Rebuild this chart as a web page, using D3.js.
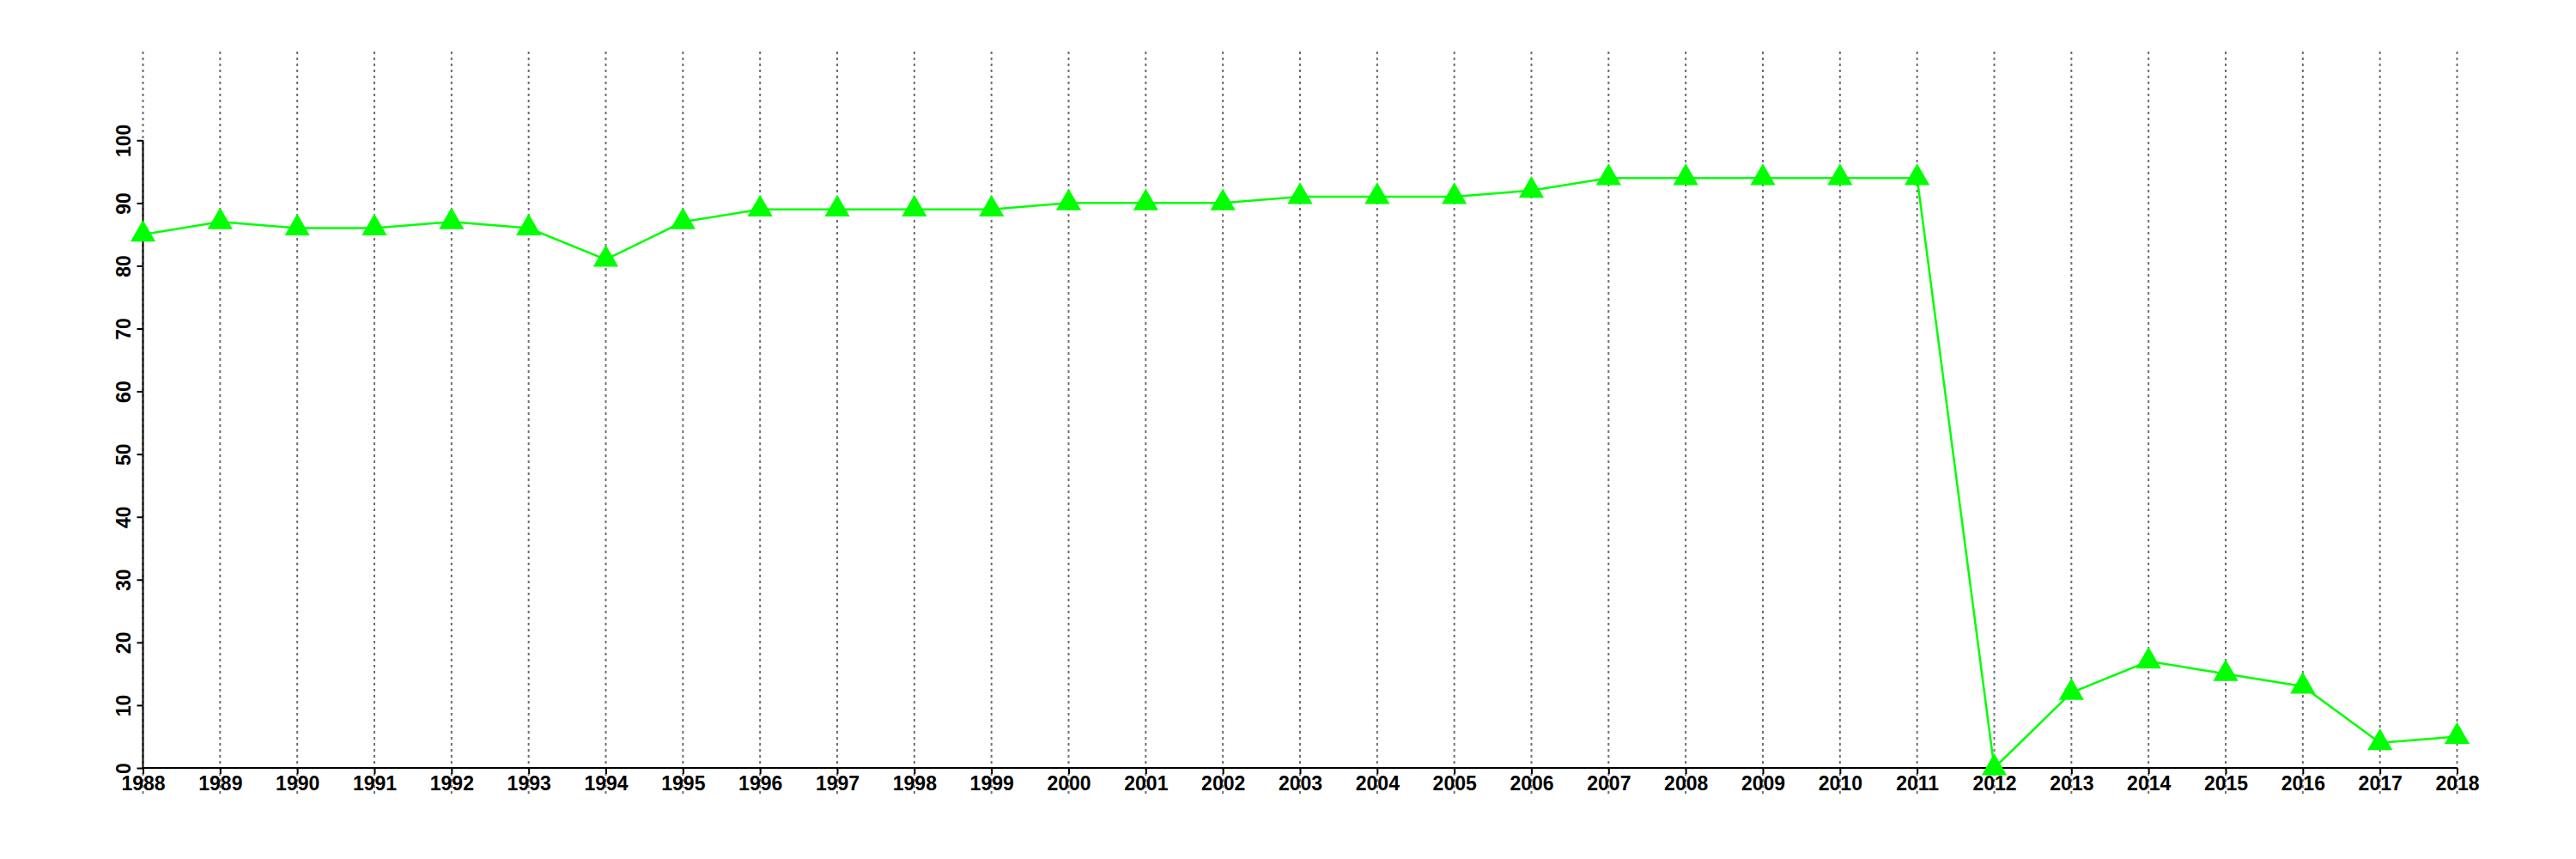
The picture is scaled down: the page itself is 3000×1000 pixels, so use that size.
<!DOCTYPE html>
<html>
<head>
<meta charset="utf-8">
<script src="https://cdn.jsdelivr.net/npm/d3@7"></script>
<style>
  html, body { margin: 0; padding: 0; background: #fff; }
  svg { display: block; }
  text { font-family: "Liberation Sans", Arial, sans-serif; font-weight: bold; font-size: 23px; fill: #000; }
</style>
</head>
<body>
<svg id="chart" width="3000" height="1000"></svg>
<script>
const years = [1988,1989,1990,1991,1992,1993,1994,1995,1996,1997,1998,1999,2000,2001,2002,2003,2004,2005,2006,2007,2008,2009,2010,2011,2012,2013,2014,2015,2016,2017,2018];
const values = [85,87,86,86,87,86,81,87,89,89,89,89,90,90,90,91,91,91,92,94,94,94,94,94,0,12,17,15,13,4,5];
const yTicks = [0,10,20,30,40,50,60,70,80,90,100];

const svg = d3.select("#chart");
const x = d3.scaleLinear().domain([1988, 2018]).range([166.5, 2861.5]);
const y = d3.scaleLinear().domain([0, 100]).range([894, 163.3]);

// vertical dotted gridlines
svg.append("g").selectAll("line").data(years).join("line")
  .attr("x1", d => x(d)).attr("x2", d => x(d))
  .attr("y1", 60).attr("y2", 928)
  .attr("stroke", "#6e6e6e").attr("stroke-width", 2).attr("stroke-dasharray", "3,4");

// x axis
const xAxis = d3.axisBottom(x).tickValues(years).tickFormat(d3.format("d")).tickSize(7).tickPadding(3);
const gx = svg.append("g").attr("transform", "translate(0,894)").call(xAxis);
gx.select(".domain").attr("stroke", "#000").attr("stroke-width", 2).attr("d", `M${x(1988)},0H${x(2018)}`);
gx.selectAll(".tick line").attr("stroke", "#000").attr("stroke-width", 2);
gx.selectAll(".tick text").attr("font-size", 23).attr("font-family", "Liberation Sans, Arial, sans-serif").attr("font-weight", "bold").attr("fill", "#000");

// y axis
const yAxis = d3.axisLeft(y).tickValues(yTicks).tickFormat(d3.format("d")).tickSize(7).tickPadding(0);
const gy = svg.append("g").attr("transform", `translate(${x(1988)},0)`).call(yAxis);
gy.select(".domain").attr("stroke", "#000").attr("stroke-width", 2).attr("d", `M0,${y(0)}V${y(100)}`);
gy.selectAll(".tick line").attr("stroke", "#000").attr("stroke-width", 2);
gy.selectAll(".tick text")
  .attr("font-size", 23).attr("font-family", "Liberation Sans, Arial, sans-serif").attr("font-weight", "bold").attr("fill", "#000")
  .attr("x", null).attr("dy", null)
  .attr("text-anchor", "middle")
  .attr("transform", "translate(-15,0) rotate(-90)");

// line
const line = d3.line().x((d, i) => x(years[i])).y(d => y(d));
svg.append("path").datum(values)
  .attr("d", line).attr("fill", "none").attr("stroke", "#00ff00").attr("stroke-width", 2.5);

// triangles
const tri = d3.symbol().type(d3.symbolTriangle).size(370);
svg.append("g").selectAll("path").data(values).join("path")
  .attr("d", tri)
  .attr("transform", (d, i) => `translate(${x(years[i])},${y(d)})`)
  .attr("fill", "#00ff00");
</script>
</body>
</html>
